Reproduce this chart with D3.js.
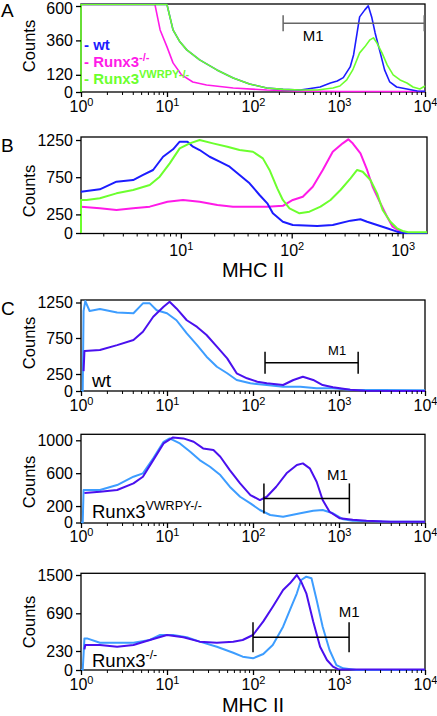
<!DOCTYPE html>
<html><head><meta charset="utf-8">
<script src="https://cdn.jsdelivr.net/npm/d3@7"></script>
<style>body{margin:0;background:#fff}svg{display:block}text{font-family:"Liberation Sans",Arial,Helvetica,sans-serif}</style>
</head><body><svg id="c" width="437" height="716"></svg>
<script>
// ---------- DATA : [log10(MHC II), counts] ----------
// Panel A
const aWt = [[0,610],[1.0,610],[1.07,433],[1.15,350],[1.23,294],[1.38,224],[1.58,154],[1.77,98],[1.96,56],[2.16,28],[2.35,18],[2.55,14],[2.63,21],[2.78,35],[2.90,63],[2.98,77],[3.05,100],[3.13,175],[3.17,260],[3.21,410],[3.24,524],[3.30,573],[3.34,601],[3.38,524],[3.42,412],[3.48,273],[3.53,154],[3.59,70],[3.67,35],[3.79,21],[3.91,7],[4.0,5]];
const aRunx3KO = [[0,610],[0.86,610],[0.92,433],[1.0,315],[1.07,203],[1.17,119],[1.3,70],[1.46,49],[1.77,28],[2.16,14],[2.5,7],[3.0,3],[4.0,3]];
const aVWRPY = [[0,0],[0,610],[1.0,610],[1.07,433],[1.15,350],[1.23,294],[1.38,224],[1.58,154],[1.77,98],[1.96,56],[2.16,28],[2.35,18],[2.55,14],[2.75,14],[2.93,28],[3.01,42],[3.09,84],[3.16,154],[3.24,273],[3.30,315],[3.36,364],[3.40,378],[3.44,343],[3.50,273],[3.56,189],[3.63,119],[3.71,84],[3.79,63],[3.86,35],[3.94,21],[4.0,42]];
const aYTicks = [0,120,360,600];
const aM1 = {from:224, to:9800, level:480};
// Panel B
const bWt = [[0.1,555],[0.27,587],[0.42,690],[0.57,712],[0.66,780],[0.75,847],[0.84,1025],[0.93,1125],[0.99,1227],[1.06,1227],[1.11,1160],[1.17,1115],[1.26,1025],[1.35,958],[1.44,891],[1.53,780],[1.62,668],[1.71,511],[1.78,399],[1.83,265],[1.92,152],[2.01,108],[2.23,94],[2.37,108],[2.53,166],[2.62,184],[2.68,152],[2.77,108],[2.86,63],[2.95,18],[3.0,0],[3.22,0]];
const bRunx3KO = [[0.1,354],[0.27,332],[0.42,309],[0.57,332],[0.72,354],[0.88,421],[1.02,444],[1.17,421],[1.33,376],[1.47,354],[1.62,354],[1.78,354],[1.92,365],[2.01,444],[2.10,488],[2.19,622],[2.28,847],[2.37,1092],[2.46,1205],[2.51,1259],[2.55,1205],[2.62,1071],[2.68,847],[2.73,622],[2.80,399],[2.86,219],[2.91,85],[2.98,18],[3.02,0],[3.22,0]];
const bVWRPY = [[0.1,0],[0.1,444],[0.15,444],[0.27,466],[0.42,533],[0.57,578],[0.72,645],[0.81,757],[0.90,936],[0.99,1138],[1.08,1205],[1.17,1250],[1.29,1205],[1.42,1160],[1.53,1115],[1.65,1092],[1.74,1003],[1.80,847],[1.87,600],[1.92,444],[1.98,332],[2.07,265],[2.16,287],[2.26,354],[2.35,444],[2.44,578],[2.53,735],[2.59,847],[2.64,824],[2.71,712],[2.77,533],[2.82,309],[2.89,152],[2.95,63],[3.0,27],[3.05,10],[3.22,10]];
const bYTicks = [0,250,750,1250];
// Panel C – wt
const c1Dark = [[0.03,290],[0.04,570],[0.22,583],[0.42,651],[0.61,722],[0.72,838],[0.84,1049],[0.96,1190],[1.03,1260],[1.11,1166],[1.23,1000],[1.35,906],[1.46,792],[1.58,629],[1.70,467],[1.81,260],[1.93,187],[2.05,137],[2.16,113],[2.35,88],[2.47,162],[2.58,210],[2.70,162],[2.81,88],[2.93,54],[3.13,18],[3.3,5],[4.0,0]];
const c1Light = [[0,0],[0.02,0],[0.03,1132],[0.05,1270],[0.1,1130],[0.22,1158],[0.42,1110],[0.61,1098],[0.72,1238],[0.80,1238],[0.88,1140],[1.0,1098],[1.11,1000],[1.23,815],[1.35,651],[1.46,490],[1.58,351],[1.70,260],[1.81,162],[1.97,113],[2.16,88],[2.35,63],[2.55,63],[2.74,40],[2.93,40],[3.13,18],[3.5,15],[4.0,10]];
const c1YTicks = [0,250,750,1250];
const c1M1 = {from:138, to:1670, level:407};
// Panel C – Runx3 VWRPY-/-
const c2Dark = [[0.04,360],[0.22,374],[0.42,395],[0.61,476],[0.72,557],[0.84,759],[0.96,962],[1.07,1035],[1.19,1023],[1.31,982],[1.42,901],[1.54,881],[1.62,800],[1.73,638],[1.85,476],[1.97,334],[2.08,273],[2.16,313],[2.27,435],[2.39,598],[2.51,699],[2.58,719],[2.66,659],[2.74,496],[2.81,273],[2.89,131],[3.01,51],[3.16,33],[3.32,22],[3.6,10],[4.0,10]];
const c2Light = [[0,0],[0.02,0],[0.03,395],[0.22,395],[0.42,456],[0.61,557],[0.72,598],[0.84,780],[0.96,982],[1.03,1023],[1.15,962],[1.27,860],[1.38,759],[1.50,678],[1.62,577],[1.73,435],[1.85,313],[1.97,233],[2.08,152],[2.20,91],[2.35,70],[2.55,112],[2.70,143],[2.81,152],[2.93,112],[3.05,39],[3.16,22],[3.5,12],[4.0,10]];
const c2YTicks = [0,200,600,1000];
const c2M1 = {from:134, to:1320, level:293};
// Panel C – Runx3-/-
const c3Dark = [[0.04,250],[0.05,303],[0.22,303],[0.42,282],[0.61,303],[0.80,364],[1.0,425],[1.19,397],[1.38,344],[1.58,331],[1.77,344],[1.88,364],[2.0,425],[2.12,591],[2.23,830],[2.35,1183],[2.43,1324],[2.51,1500],[2.56,1359],[2.62,1113],[2.70,591],[2.78,282],[2.86,121],[2.93,40],[3.0,5],[4.0,5]];
const c3Light = [[0,0],[0.02,0],[0.04,384],[0.07,384],[0.22,331],[0.61,331],[0.80,364],[0.92,425],[1.07,425],[1.23,397],[1.38,344],[1.58,282],[1.77,209],[1.88,161],[2.0,141],[2.12,194],[2.23,303],[2.35,527],[2.43,760],[2.51,1113],[2.56,1394],[2.62,1464],[2.68,1430],[2.74,971],[2.81,527],[2.89,242],[2.97,60],[3.05,20],[3.2,0],[4.0,0]];
const c3YTicks = [0,230,690,1500];
const c3M1 = {from:100, to:1310, level:397};

// ---------- STYLE ----------
const BLUE='#1c1cff', MAG='#ff1ae8', GREEN='#6cff2e', DARK='#4a10ee', LIGHT='#3d9dff';
const svg = d3.select('#c');

const panels = [
 {id:'A', top:4, bottom:92, left:81, right:425, xDom:[1,1e4], yDom:[0,600], yRng:[92,6], yTicks:aYTicks, lw:1.6, labOff:20,
  series:[{d:aRunx3KO,c:MAG},{d:aWt,c:BLUE},{d:aVWRPY,c:GREEN}], m1:aM1, m1Color:'#666', m1Label:{dx:30,dy:18,size:15}, countsY:46},
 {id:'B', top:137, bottom:233.5, left:81, right:427, xDom:[Math.pow(10,0.1),Math.pow(10,3.22)], yDom:[0,1250], yRng:[233,140], yTicks:bYTicks, lw:2, labOff:22,
  series:[{d:bRunx3KO,c:MAG},{d:bWt,c:BLUE},{d:bVWRPY,c:GREEN}], countsY:191, xTitle:277},
 {id:'C1', top:300, bottom:391, left:81, right:425, xDom:[1,1e4], yDom:[0,250,750,1250], yRng:[391,374,338,302.5], yTicks:c1YTicks, lw:2, labOff:19.5,
  series:[{d:c1Light,c:LIGHT},{d:c1Dark,c:DARK}], m1:c1M1, m1Color:'#000', m1Label:{dx:-21,dy:-8,size:13,fromEnd:true}, countsY:343},
 {id:'C2', top:434.3, bottom:523, left:81, right:425, xDom:[1,1e4], yDom:[0,1000], yRng:[522.5,440.3], yTicks:c2YTicks, lw:2, labOff:19,
  series:[{d:c2Light,c:LIGHT},{d:c2Dark,c:DARK}], m1:c2M1, m1Color:'#000', m1Label:{dx:-12,dy:-18,size:15,fromEnd:true}, countsY:482},
 {id:'C3', top:573.3, bottom:670, left:81, right:425, xDom:[1,1e4], yDom:[0,230,690,1500], yRng:[670,651,613.3,575], yTicks:c3YTicks, lw:2, labOff:20,
  series:[{d:c3Light,c:LIGHT},{d:c3Dark,c:DARK}], m1:c3M1, m1Color:'#000', m1Label:{dx:0,dy:-20,size:15,fromEnd:true}, countsY:622, xTitle:712}
];

panels.forEach(p=>{
  const x = d3.scaleLog().domain(p.xDom).range([p.left,p.right]);
  const y = d3.scaleLinear().domain(p.yDom).range(p.yRng);
  const g = svg.append('g');
  const clipId='clip'+p.id;
  svg.append('clipPath').attr('id',clipId).append('rect')
    .attr('x',p.left-1).attr('y',p.top-1).attr('width',p.right-p.left+2).attr('height',p.bottom-p.top+2);
  g.append('rect').attr('x',p.left).attr('y',p.top).attr('width',p.right-p.left).attr('height',p.bottom-p.top)
    .attr('fill','none').attr('stroke','#000').attr('stroke-width',1.3);
  const line = d3.line().x(d=>x(Math.pow(10,d[0]))).y(d=>y(d[1]));
  p.series.forEach(s=>{
    g.append('path').datum(s.d).attr('clip-path',`url(#${clipId})`).attr('fill','none')
      .attr('stroke',s.c).attr('stroke-width',p.lw).attr('stroke-linejoin','round').attr('d',line);
  });
  const ya = g.append('g').attr('transform',`translate(${p.left},0)`)
    .call(d3.axisLeft(y).tickValues(p.yTicks).tickSize(5).tickPadding(3).tickFormat(d3.format('d')));
  ya.select('.domain').remove();
  ya.selectAll('text').attr('font-size',16).attr('font-family','"Liberation Sans",Arial,sans-serif').attr('fill','#000');
  if(p.id==='A') ya.selectAll('text').filter(d=>d===600).attr('dy','0.45em');
  ya.selectAll('line').attr('stroke','#000').attr('stroke-width',1.3);
  const lo=Math.log10(p.xDom[0]), hi=Math.log10(p.xDom[1]);
  const minor=[], major=[];
  for(let e=Math.floor(lo); e<=Math.ceil(hi); e++){
    const b=Math.pow(10,e);
    if(b>=p.xDom[0]*0.999 && b<=p.xDom[1]*1.001) major.push(b);
    for(let k=2;k<10;k++){const v=k*b; if(v>p.xDom[0] && v<p.xDom[1]) minor.push(v);}
  }
  const xm = g.append('g').attr('transform',`translate(0,${p.bottom})`)
    .call(d3.axisBottom(x).tickValues(minor).tickSize(3).tickFormat(''));
  xm.select('.domain').remove();
  xm.selectAll('line').attr('stroke','#000').attr('stroke-width',1);
  const xM = g.append('g').attr('transform',`translate(0,${p.bottom})`)
    .call(d3.axisBottom(x).tickValues(major).tickSize(5).tickFormat(''));
  xM.select('.domain').remove();
  xM.selectAll('line').attr('stroke','#000').attr('stroke-width',1.3);
  xM.selectAll('.tick').append('text').attr('y',p.labOff).attr('text-anchor','middle').attr('fill','#000')
    .attr('font-size',16).attr('font-family','"Liberation Sans",Arial,sans-serif')
    .each(function(d){
      const t=d3.select(this); const e=Math.round(Math.log10(d));
      t.append('tspan').text('10');
      t.append('tspan').attr('dy',-6).attr('font-size',11).text(e);
    });
  svg.append('text').attr('transform',`translate(35,${p.countsY}) rotate(-90)`).attr('text-anchor','middle')
    .attr('font-size',16.5).text('Counts');
  if(p.xTitle){
    svg.append('text').attr('x',253).attr('y',p.xTitle).attr('text-anchor','middle').attr('font-size',20).text('MHC II');
  }
  if(p.m1){
    const x0=x(p.m1.from), x1=x(p.m1.to), yy=y(p.m1.level);
    const mg=g.append('g').attr('stroke',p.m1Color).attr('stroke-width',1.5);
    mg.append('line').attr('x1',x0).attr('x2',x1).attr('y1',yy).attr('y2',yy);
    const h = p.id==='A'?8:(p.id==='C1'?11:15);
    mg.append('line').attr('x1',x0).attr('x2',x0).attr('y1',yy-h).attr('y2',yy+h);
    mg.append('line').attr('x1',x1).attr('x2',x1).attr('y1',yy-h).attr('y2',yy+h);
    const L=p.m1Label;
    const lx = L.fromEnd ? x1+L.dx : x0+L.dx;
    svg.append('text').attr('x',lx).attr('y',yy+L.dy).attr('text-anchor','middle')
      .attr('font-size',L.size).attr('fill','#000').text('M1');
  }
});

[['A',17],['B',152],['C',315]].forEach(([t,yy])=>{
  svg.append('text').attr('x',1).attr('y',yy).attr('font-size',19).text(t);
});

const leg = [
  {t:'- wt', sup:'', c:BLUE, y:50},
  {t:'- Runx3', sup:'-/-', c:MAG, y:66.5},
  {t:'- Runx3', sup:'VWRPY-/-', c:GREEN, y:84}
];
leg.forEach(l=>{
  const t=svg.append('text').attr('x',84).attr('y',l.y).attr('font-size',15).attr('font-weight','bold').attr('fill',l.c);
  t.append('tspan').text(l.t);
  if(l.sup) t.append('tspan').attr('dy',-6).attr('font-size',11).text(l.sup);
});

function sampleLabel(y, base, sup, size){
  const t=svg.append('text').attr('x',92).attr('y',y).attr('font-size',size).attr('fill','#000');
  t.append('tspan').text(base);
  if(sup) t.append('tspan').attr('dy',-8).attr('font-size',12.5).text(sup);
}
sampleLabel(387,'wt','',19);
sampleLabel(518,'Runx3','VWRPY-/-',18.5);
sampleLabel(667,'Runx3','-/-',18.5);
</script></body></html>
